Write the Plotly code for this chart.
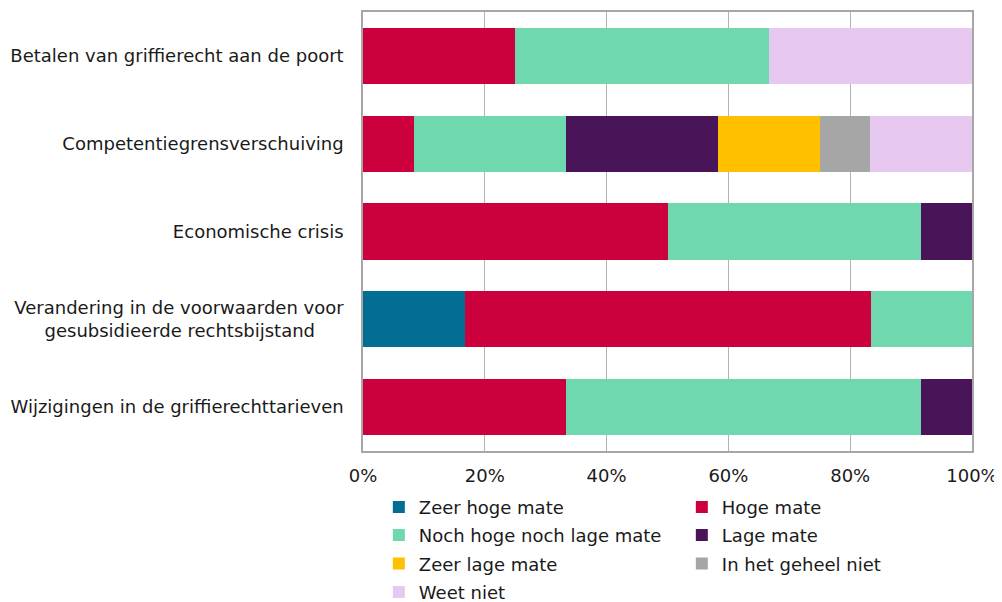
import plotly.graph_objects as go

categories = [
    "Betalen van griffierecht aan de poort",
    "Competentiegrensverschuiving",
    "Economische crisis",
    "Verandering in de voorwaarden voor<br>gesubsidieerde rechtsbijstand&nbsp;&nbsp;&nbsp;&nbsp;&nbsp;",
    "Wijzigingen in de griffierechttarieven",
]

series_names = [
    "Zeer hoge mate",
    "Hoge mate",
    "Noch hoge noch lage mate",
    "Lage mate",
    "Zeer lage mate",
    "In het geheel niet",
    "Weet niet",
]

zeer_hoge = [0, 0, 0, 16.7, 0]
hoge = [25.0, 8.3, 50.0, 66.7, 33.3]
noch = [41.7, 25.0, 41.7, 16.6, 58.4]
lage = [0, 25.0, 8.3, 0, 8.3]
zeer_lage = [0, 16.7, 0, 0, 0]
geheel_niet = [0, 8.3, 0, 0, 0]
weet_niet = [33.3, 16.7, 0, 0, 0]

series_values = [zeer_hoge, hoge, noch, lage, zeer_lage, geheel_niet, weet_niet]
colors = ["#036E94", "#CC003D", "#6FD8AF", "#4A1459", "#FFC000", "#A6A6A6", "#E6C8F1"]
legend_ids = ["legend", "legend", "legend2", "legend2", "legend3", "legend3", "legend4"]

x_tickvals = [0, 20, 40, 60, 80, 100]
x_ticktext = ["0%", "20%", "40%", "60%", "80%", "100%"]

FONT = "Verdana, DejaVu Sans, sans-serif"

fig = go.Figure()
for name, vals, col, lg in zip(series_names, series_values, colors, legend_ids):
    fig.add_trace(go.Bar(
        y=categories, x=vals, name=name, orientation="h",
        marker=dict(color=col, line=dict(width=0)),
        legend=lg,
    ))

legend_common = dict(
    orientation="h", x=0.026, xanchor="left", yanchor="top",
    entrywidth=258, entrywidthmode="pixels",
    font=dict(family=FONT, size=18, color="#1a1a1a"),
    bgcolor="rgba(0,0,0,0)", traceorder="normal",
)

fig.update_layout(
    barmode="stack",
    bargap=0.36,
    width=994, height=594,
    margin=dict(l=355, r=30, t=4, b=151, autoexpand=False),
    paper_bgcolor="white", plot_bgcolor="white",
    font=dict(family=FONT, size=18, color="#1a1a1a"),
    legend=dict(legend_common, y=-0.086),
    legend2=dict(legend_common, y=-0.150),
    legend3=dict(legend_common, y=-0.215),
    legend4=dict(legend_common, y=-0.280),
    xaxis=dict(
        range=[0, 100], tickvals=x_tickvals, ticktext=x_ticktext,
        showgrid=True, gridcolor="#B3B3B3", gridwidth=1,
        showline=True, linecolor="#A6A6A6", linewidth=1.5, mirror=True,
        zeroline=False, ticks="", ticklabelstandoff=8,
        tickfont=dict(family=FONT, size=18, color="#1a1a1a"),
        fixedrange=True,
    ),
    yaxis=dict(
        autorange="reversed",
        showline=True, linecolor="#A6A6A6", linewidth=1.5, mirror=True,
        showgrid=False, ticks="", ticklabelstandoff=14,
        tickfont=dict(family=FONT, size=18, color="#1a1a1a"),
        fixedrange=True,
    ),
    showlegend=True,
)

fig.write_html("out.html")
